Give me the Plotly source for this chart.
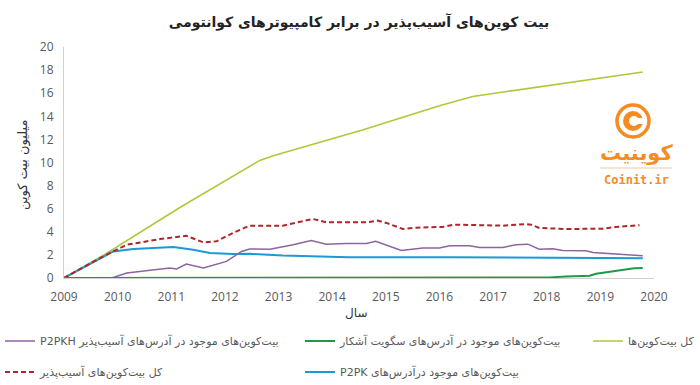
import plotly.graph_objects as go

# ---------------- data ----------------
years_total = [2009, 2009.73, 2011.16, 2012.65, 2012.9, 2014.58, 2016.0, 2016.62, 2019.79]
total_btc = [0, 1.95, 6.1, 10.18, 10.59, 12.84, 14.92, 15.72, 17.84]

years_vuln = [2009, 2009.73, 2010.17, 2010.79, 2011.28, 2011.47, 2011.6, 2011.84, 2012.15,
              2012.46, 2013.08, 2013.64, 2013.89, 2014.64, 2014.85, 2015.01, 2015.32, 2015.57,
              2016.06, 2016.28, 2016.81, 2017.18, 2017.62, 2017.71, 2017.86, 2018.36, 2019.04,
              2019.29, 2019.73]
vuln_btc = [0, 1.88, 2.88, 3.37, 3.66, 3.31, 3.08, 3.17, 3.9,
            4.53, 4.53, 5.11, 4.82, 4.82, 4.97, 4.77, 4.24, 4.36,
            4.42, 4.62, 4.53, 4.53, 4.67, 4.62, 4.33, 4.24, 4.27,
            4.42, 4.57]

years_p2pk = [2009, 2009.73, 2009.92, 2010.29, 2010.66, 2011.04, 2011.41, 2011.72, 2012.15,
              2012.46, 2013.08, 2013.7, 2014.3, 2016.2, 2018.0, 2019.79]
p2pk_btc = [0, 1.88, 2.3, 2.51, 2.6, 2.68, 2.45, 2.16, 2.08,
            2.09, 1.95, 1.86, 1.8, 1.8, 1.76, 1.72]

years_p2pkh = [2009, 2009.89, 2010.17, 2010.54, 2010.97, 2011.1, 2011.28, 2011.6, 2012.03,
               2012.31, 2012.46, 2012.84, 2013.27, 2013.61, 2013.89, 2014.26, 2014.64, 2014.81,
               2015.29, 2015.69, 2016.0, 2016.19, 2016.56, 2016.75, 2017.18, 2017.43, 2017.65,
               2017.86, 2018.11, 2018.3, 2018.73, 2018.86, 2019.11, 2019.42, 2019.79]
p2pkh_btc = [0, 0, 0.43, 0.66, 0.87, 0.78, 1.21, 0.87, 1.44,
             2.3, 2.51, 2.5, 2.88, 3.25, 2.93, 2.99, 2.99, 3.17,
             2.38, 2.59, 2.59, 2.79, 2.79, 2.65, 2.65, 2.88, 2.93,
             2.5, 2.53, 2.38, 2.35, 2.21, 2.12, 2.06, 1.92]

years_segwit = [2009, 2017.86, 2018.05, 2018.36, 2018.8, 2018.92, 2019.29, 2019.63, 2019.79]
segwit_btc = [0, 0, 0.05, 0.14, 0.2, 0.37, 0.63, 0.85, 0.86]

x_ticks = list(range(2009, 2021))
y_ticks = list(range(0, 21, 2))

name_total = "کل بیت‌کوین‌ها"
name_segwit = "بیت‌کوین‌های موجود در آدرس‌های سگویت آشکار"
name_p2pkh = "\u202bبیت‌کوین‌های موجود در آدرس‌های آسیب‌پذیر P2PKH\u202c"
name_vuln = "کل بیت‌کوین‌های آسیب‌پذیر"
name_p2pk = "\u202bبیت‌کوین‌های موجود درآدرس‌های P2PK\u202c"

title_text = "بیت کوین‌های آسیب‌پذیر در برابر کامپیوترهای کوانتومی"
y_title = "میلیون بیت کوین"
x_title = "سال"

# ---------------- figure ----------------
W, H = 700, 385
L, R, T, B = 64, 46, 47, 107

PERSIAN = "DejaVu Sans"
GRAY = "#595959"
ORANGE = "#f68b1f"

fig = go.Figure()
fig.add_trace(go.Scatter(x=years_total, y=total_btc, mode="lines", name=name_total,
                         line=dict(color="#afc83a", width=1.6), legend="legend3"))
fig.add_trace(go.Scatter(x=years_p2pk, y=p2pk_btc, mode="lines", name=name_p2pk,
                         line=dict(color="#1a9ad6", width=2), legend="legend5"))
fig.add_trace(go.Scatter(x=years_p2pkh, y=p2pkh_btc, mode="lines", name=name_p2pkh,
                         line=dict(color="#8d64a0", width=1.5), legend="legend"))
fig.add_trace(go.Scatter(x=years_vuln, y=vuln_btc, mode="lines", name=name_vuln,
                         line=dict(color="#b0262a", width=2, dash="5px,3px"), legend="legend4"))
fig.add_trace(go.Scatter(x=years_segwit, y=segwit_btc, mode="lines", name=name_segwit,
                         line=dict(color="#1e9a48", width=2), legend="legend2"))


def cx(px):
    return px / W


def cy(py):
    return 1 - py / H


def px_x(px):
    return (px - L) / (W - L - R)


def px_y(py):
    return (H - B - py) / (H - T - B)


leg_common = dict(xref="container", yref="container", xanchor="left", yanchor="middle",
                  font=dict(family=PERSIAN, size=11, color=GRAY), bgcolor="rgba(0,0,0,0)",
                  borderwidth=0)

fig.update_layout(
    width=W, height=H,
    margin=dict(l=L, r=R, t=T, b=B, autoexpand=False),
    paper_bgcolor="white", plot_bgcolor="white",
    showlegend=True,
    title=dict(text=title_text, x=0.5, xref="paper", xanchor="center",
               y=cy(22), yref="container", yanchor="middle",
               font=dict(family=PERSIAN, size=14, color="#222222", weight="bold")),
    xaxis=dict(range=[2009, 2020], tickvals=x_ticks, ticktext=[str(v) for v in x_ticks],
               showgrid=False, zeroline=False, showline=True, linecolor="#d0d0d0", linewidth=1,
               ticks="", ticklabelstandoff=8,
               tickfont=dict(family="Open Sans", size=12, color=GRAY)),
    yaxis=dict(range=[0, 20], tickvals=y_ticks, showgrid=False, zeroline=False,
               showline=True, linecolor="#d0d0d0", linewidth=1, ticks="",
               ticklabelstandoff=7,
               tickfont=dict(family="Open Sans", size=12, color=GRAY)),
    legend=dict(x=cx(0), y=cy(341), **leg_common),
    legend4=dict(x=cx(0), y=cy(372), **leg_common),
    legend2=dict(x=cx(300), y=cy(341), **leg_common),
    legend5=dict(x=cx(300), y=cy(372), **leg_common),
    legend3=dict(x=cx(588), y=cy(341), **leg_common),
)

# axis titles as annotations
fig.add_annotation(text=y_title, xref="paper", yref="paper",
                   x=px_x(23), y=px_y(165), xanchor="center", yanchor="middle",
                   textangle=-90, showarrow=False,
                   font=dict(family=PERSIAN, size=13, color="#333333"))
fig.add_annotation(text=x_title, xref="paper", yref="paper",
                   x=px_x(356), y=px_y(313), xanchor="center", yanchor="middle",
                   showarrow=False, font=dict(family=PERSIAN, size=12, color="#333333"))

# ---------------- Coinit watermark ----------------
ccx, ccy = 633, 121
shapes = [
    dict(type="circle", xref="paper", yref="paper", x0=px_x(ccx - 16), x1=px_x(ccx + 16),
         y0=px_y(ccy + 16), y1=px_y(ccy - 16), line=dict(color=ORANGE, width=3.5),
         fillcolor="rgba(0,0,0,0)"),
    dict(type="circle", xref="paper", yref="paper", x0=px_x(ccx - 10), x1=px_x(ccx + 10),
         y0=px_y(ccy + 10), y1=px_y(ccy - 10), line=dict(width=0), fillcolor=ORANGE),
    dict(type="circle", xref="paper", yref="paper", x0=px_x(ccx - 4), x1=px_x(ccx + 6),
         y0=px_y(ccy + 5), y1=px_y(ccy - 5), line=dict(width=0), fillcolor="white"),
    dict(type="rect", xref="paper", yref="paper", x0=px_x(ccx + 1), x1=px_x(ccx + 11),
         y0=px_y(ccy + 3), y1=px_y(ccy - 3), line=dict(width=0), fillcolor="white"),
    dict(type="line", xref="paper", yref="paper", x0=px_x(600), x1=px_x(672),
         y0=px_y(168), y1=px_y(168), line=dict(color="#f3c9a0", width=1)),
]
fig.update_layout(shapes=shapes)
fig.add_annotation(text="<b>کوینیت</b>", xref="paper", yref="paper", x=px_x(636), y=px_y(153),
                   xanchor="center", yanchor="middle", showarrow=False,
                   font=dict(family=PERSIAN, size=21, color=ORANGE))
fig.add_annotation(text="<b>Coinit.ir</b>", xref="paper", yref="paper", x=px_x(636), y=px_y(180),
                   xanchor="center", yanchor="middle", showarrow=False,
                   font=dict(family="DejaVu Sans Mono", size=12, color=ORANGE))

fig.write_html("out.html", config={"displayModeBar": False},
               post_script="document.body.style.margin='0px';")
